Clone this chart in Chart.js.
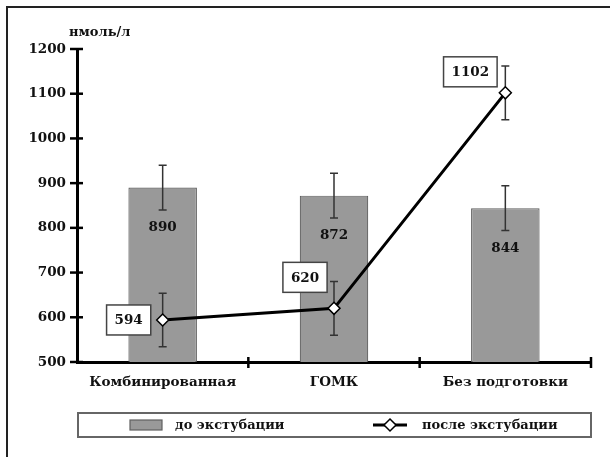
<!DOCTYPE html>
<html><head><meta charset="utf-8">
<script src="https://cdn.jsdelivr.net/npm/chart.js@4"></script>
<style>html,body{margin:0;padding:0;background:#fff}canvas{display:block}</style>
</head><body>
<canvas id="c" width="610" height="457"></canvas>
<script>
const categories = ['Комбинированная', 'ГОМК', 'Без подготовки'];
const beforeValues = [890, 872, 844];
const beforeErrors = [50, 50, 50];
const afterValues = [594, 620, 1102];
const afterErrors = [60, 60, 60];
const yMin = 500, yMax = 1200, yStep = 100;
const unitLabel = 'нмоль/л';
const seriesNames = ['до экстубации', 'после экстубации'];

const FONT = '"DejaVu Serif", serif';
// offsets of the value boxes from their point (box centre), style only
const boxOffsets = [[-34, 0], [-29, -31], [-35, -21]];

const decor = {
  id: 'decor',
  beforeDatasetDraw(chart, args) {
    if (args.index !== 1) return;
    const ctx = chart.ctx, y = chart.scales.y;
    const meta = chart.getDatasetMeta(1);
    ctx.save();
    ctx.strokeStyle = '#333'; ctx.lineWidth = 1.5;
    meta.data.forEach((p, i) => {
      const v = chart.data.datasets[1].data[i], e = afterErrors[i];
      const t = y.getPixelForValue(v + e), b = y.getPixelForValue(v - e);
      ctx.beginPath();
      ctx.moveTo(p.x, t); ctx.lineTo(p.x, b);
      ctx.moveTo(p.x - 4, t); ctx.lineTo(p.x + 4, t);
      ctx.moveTo(p.x - 4, b); ctx.lineTo(p.x + 4, b);
      ctx.stroke();
    });
    ctx.restore();
  },
  afterDatasetDraw(chart, args) {
    if (args.index !== 0) return;
    const ctx = chart.ctx, y = chart.scales.y;
    const meta = chart.getDatasetMeta(0);
    ctx.save();
    ctx.strokeStyle = '#333'; ctx.lineWidth = 1.5;
    meta.data.forEach((bar, i) => {
      const v = chart.data.datasets[0].data[i], e = beforeErrors[i];
      const t = y.getPixelForValue(v + e), b = y.getPixelForValue(v - e);
      ctx.beginPath();
      ctx.moveTo(bar.x, t); ctx.lineTo(bar.x, b);
      ctx.moveTo(bar.x - 4, t); ctx.lineTo(bar.x + 4, t);
      ctx.moveTo(bar.x - 4, b); ctx.lineTo(bar.x + 4, b);
      ctx.stroke();
    });
    // bar value labels
    ctx.fillStyle = '#111';
    ctx.font = 'bold 13.5px ' + FONT;
    ctx.textAlign = 'center'; ctx.textBaseline = 'middle';
    meta.data.forEach((bar, i) => {
      ctx.fillText(String(chart.data.datasets[0].data[i]), bar.x, bar.y + 40);
    });
    ctx.restore();
  },
  afterDatasetsDraw(chart) {
    const ctx = chart.ctx;
    const meta = chart.getDatasetMeta(1);
    ctx.save();
    ctx.font = 'bold 13.5px ' + FONT;
    ctx.textAlign = 'center'; ctx.textBaseline = 'middle';
    meta.data.forEach((p, i) => {
      const txt = String(chart.data.datasets[1].data[i]);
      const w = ctx.measureText(txt).width + 16, h = 30;
      const cx = p.x + boxOffsets[i][0], cy = p.y + boxOffsets[i][1];
      ctx.fillStyle = '#fff';
      ctx.fillRect(cx - w / 2, cy - h / 2, w, h);
      ctx.strokeStyle = '#444'; ctx.lineWidth = 1.5;
      ctx.strokeRect(cx - w / 2, cy - h / 2, w, h);
      ctx.fillStyle = '#111';
      ctx.fillText(txt, cx, cy + 1);
    });
    ctx.restore();
  },
  afterDraw(chart) {
    const ctx = chart.ctx, a = chart.chartArea;
    const ys = chart.scales.y, xs = chart.scales.x;
    ctx.save();
    // outer frame (top and left)
    ctx.strokeStyle = '#222'; ctx.lineWidth = 2;
    ctx.beginPath();
    ctx.moveTo(7, 457); ctx.lineTo(7, 7); ctx.lineTo(610, 7);
    ctx.stroke();
    // y ticks crossing axis
    ctx.strokeStyle = '#000'; ctx.lineWidth = 2.5;
    ys.ticks.forEach(t => {
      const py = ys.getPixelForValue(t.value);
      ctx.beginPath(); ctx.moveTo(a.left - 7, py); ctx.lineTo(a.left + 6, py); ctx.stroke();
    });
    // x ticks at category boundaries
    const step = xs.getPixelForValue(1) - xs.getPixelForValue(0);
    for (let i = 0; i < categories.length; i++) {
      const px = xs.getPixelForValue(i) + step / 2;
      ctx.beginPath(); ctx.moveTo(px, a.bottom - 5); ctx.lineTo(px, a.bottom + 6); ctx.stroke();
    }
    // unit label
    ctx.fillStyle = '#111';
    ctx.font = 'bold 13px ' + FONT;
    ctx.textAlign = 'left'; ctx.textBaseline = 'middle';
    ctx.fillText(unitLabel, 69, 33);
    // legend
    const lx0 = 78, lx1 = 591, ly0 = 413, ly1 = 437, lyc = (ly0 + ly1) / 2;
    ctx.strokeStyle = '#666'; ctx.lineWidth = 2;
    ctx.strokeRect(lx0, ly0, lx1 - lx0, ly1 - ly0);
    const d0 = chart.data.datasets[0], d1 = chart.data.datasets[1];
    ctx.fillStyle = d0.backgroundColor;
    ctx.fillRect(130, lyc - 5, 32, 10);
    ctx.strokeStyle = d0.borderColor; ctx.lineWidth = 1.2;
    ctx.strokeRect(130, lyc - 5, 32, 10);
    ctx.font = 'bold 13px ' + FONT;
    ctx.fillStyle = '#111';
    ctx.fillText(d0.label, 175, lyc + 1);
    ctx.strokeStyle = '#000'; ctx.lineWidth = 3;
    ctx.beginPath(); ctx.moveTo(373, lyc); ctx.lineTo(407, lyc); ctx.stroke();
    ctx.fillStyle = '#fff'; ctx.lineWidth = 1.5;
    ctx.beginPath();
    ctx.moveTo(390, lyc - 6); ctx.lineTo(396, lyc); ctx.lineTo(390, lyc + 6); ctx.lineTo(384, lyc); ctx.closePath();
    ctx.fill(); ctx.stroke();
    ctx.fillStyle = '#111';
    ctx.fillText(d1.label, 422, lyc + 1);
    ctx.restore();
  }
};

new Chart(document.getElementById('c'), {
  data: {
    labels: categories,
    datasets: [
      {
        type: 'bar', label: seriesNames[0], data: beforeValues,
        backgroundColor: '#999999', borderColor: '#606060', borderWidth: 1.2,
        barPercentage: 0.4, categoryPercentage: 1, order: 2
      },
      {
        type: 'line', label: seriesNames[1], data: afterValues,
        borderColor: '#000', borderWidth: 3, tension: 0,
        pointStyle: 'rectRot', pointRadius: 6, pointBackgroundColor: '#fff',
        pointBorderColor: '#000', pointBorderWidth: 1.5, order: 1
      }
    ]
  },
  options: {
    responsive: false, animation: false,
    layout: { padding: { left: 0, top: 49, right: 19, bottom: 55 } },
    plugins: { legend: { display: false }, tooltip: { enabled: false } },
    scales: {
      x: {
        offset: true,
        grid: { display: false, drawTicks: false },
        border: { display: true, color: '#000', width: 3 },
        ticks: { color: '#111', font: { family: FONT, size: 13.5, weight: 'bold' }, padding: 12, maxRotation: 0 },
        afterFit(s) { s.height = 40; }
      },
      y: {
        min: yMin, max: yMax,
        grid: { display: false, drawTicks: false },
        border: { display: true, color: '#000', width: 3 },
        ticks: {
          stepSize: yStep, color: '#111', font: { family: FONT, size: 13.5, weight: 'bold' }, padding: 11,
          callback: v => String(v)
        },
        afterFit(s) { s.width = 77; }
      }
    }
  },
  plugins: [decor]
});
</script>
</body></html>
